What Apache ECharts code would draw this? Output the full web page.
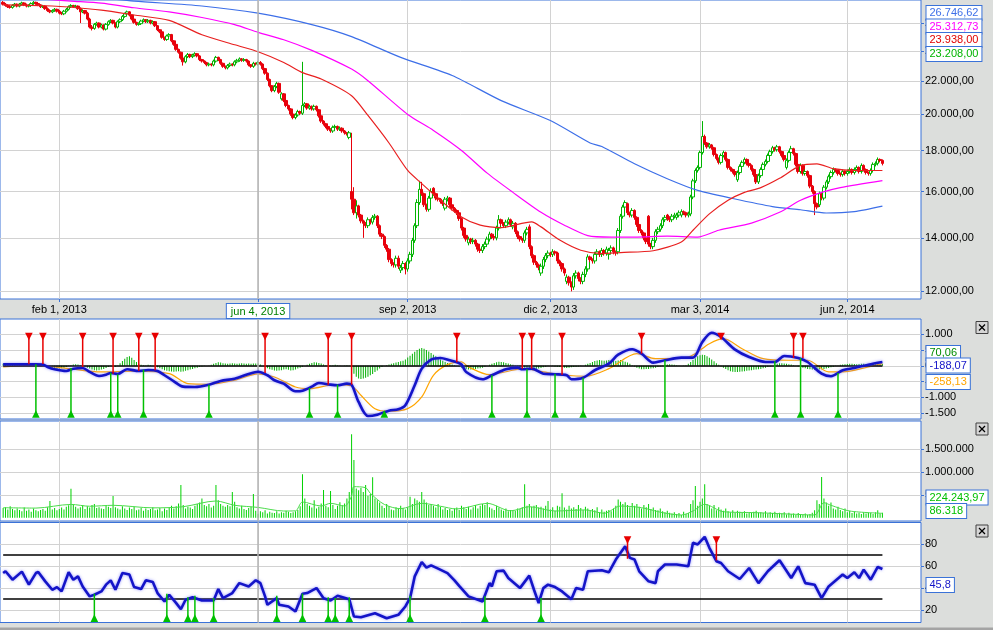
<!DOCTYPE html>
<html><head><meta charset="utf-8">
<script src="https://cdn.jsdelivr.net/npm/echarts@6/dist/echarts.min.js"></script>
<style>html,body{margin:0;padding:0;background:#dcdedc;}#c{width:993px;height:630px;}</style>
</head><body><div id="c"></div>
<script>
// ---------------- data ----------------
const tickIndex = [24, 109, 173, 234, 298, 361];
const tickLabels = ['feb 1, 2013', 'jun 4, 2013', 'sep 2, 2013', 'dic 2, 2013', 'mar 3, 2014', 'jun 2, 2014'];
const crossIndex = 109;
const priceTicks = [12000, 14000, 16000, 18000, 20000, 22000, 24000, 26000];
const macdTicks = [-1500, -1000, -500, 0, 500, 1000];
const volumeTicks = [500000, 1000000, 1500000];
const rsiTicks = [20, 40, 60, 80];
const rsiBands = [30, 70];

const open = [27600,27450,27350,27250,27200,27350,27450,27300,27450,27550,27400,27300,27350,27500,27600,27500,27400,27250,27300,27100,26950,26850,26950,27050,26900,
26750,26700,26900,27050,27250,27350,27250,27300,27100,26850,26950,26750,26300,25700,25600,25900,26000,25700,25850,25550,25900,26100,26200,26000,25700,
26100,26250,26500,26700,26850,26600,26300,26050,25900,25950,26150,26250,26100,26200,26000,26100,25800,25500,25350,24950,24800,25050,25150,24700,24450,
24100,23900,23500,23250,23600,23750,23600,23700,23800,23650,23400,23300,23200,23050,23100,23050,23300,23550,23400,23150,22950,22850,23000,23100,23050,
23250,23350,23450,23350,23400,23300,23050,22950,23150,23100,23208,23100,22800,22500,22100,21700,21400,21650,21850,20900,21200,20800,20500,20300,20000,
19800,19950,20150,20050,20500,20600,20350,20450,20300,20450,20250,19900,19600,19450,19300,19150,19050,19250,19300,19150,19200,19050,18950,18700,16000,
15650,15050,15350,14950,14700,14600,14500,14750,14650,14850,14900,14500,14150,14050,13700,13550,13150,13000,12950,13200,12750,12850,13000,12800,13100,
13350,13900,14500,15500,16100,15900,15400,15200,15700,16150,15900,15700,15650,15550,15250,15650,15700,15400,15250,15150,15050,14800,14400,14100,13800,
13950,13850,13900,13750,13550,13500,13650,13750,13950,14150,14050,14000,14400,14750,14600,14500,14650,14750,14450,14600,14250,14050,13950,13900,14200,
14450,13650,13300,13050,12950,12650,12900,13150,13300,13400,13350,13450,13400,13100,13000,12800,12350,12500,12300,12150,12550,12650,12450,12350,12600,
12800,13250,13150,13100,13350,13450,13350,13500,13400,13350,13500,13600,13450,13450,14300,14900,15300,15450,15050,14950,15150,14850,14550,14300,14200,
14000,14900,13750,13650,13900,14250,14350,14500,14750,14950,14850,14750,14900,14850,14950,14950,15100,15050,14950,15000,15750,16500,17000,17150,17900,
18750,18400,18200,18300,18150,17800,17600,17400,17750,17900,17550,17150,17050,16950,16550,16900,17200,17400,17550,17350,17250,17050,16800,16450,16750,
17050,17300,17450,17750,17950,18150,18050,18200,17950,17750,17150,17500,17900,18100,17850,17300,16950,17250,16850,16950,16750,16250,16000,15450,15400,
15900,15700,16200,16450,16700,16900,17050,17000,16850,16800,16950,16850,16950,17050,16900,17050,17150,16950,17250,17050,16900,16850,17000,17300,17350,17550,17500];

const close = [27450,27350,27250,27200,27350,27450,27300,27450,27550,27400,27300,27350,27500,27600,27500,27400,27250,27300,27100,26950,26850,26950,27050,26900,26750,
26700,26900,27050,27250,27350,27250,27300,27100,26850,26950,26750,26300,25700,25600,25900,26000,25700,25850,25550,25900,26100,26200,26000,25700,26100,
26250,26500,26700,26850,26600,26300,26050,25900,25950,26150,26250,26100,26200,26000,26100,25800,25500,25350,24950,24800,25050,25150,24700,24450,24100,
23900,23500,23250,23600,23750,23600,23700,23800,23650,23400,23300,23200,23050,23100,23050,23300,23550,23400,23150,22950,22850,23000,23100,23050,23250,
23350,23450,23350,23400,23300,23050,22950,23150,23100,23208,23100,22800,22500,22100,21700,21400,21650,21850,21300,21200,20800,20500,20300,20000,19800,
19950,20150,20050,20500,20600,20350,20450,20300,20450,20250,19900,19600,19450,19300,19150,19050,19250,19300,19150,19200,19050,18950,18900,18950,15650,
15050,15350,14950,14700,14600,14500,14750,14650,14850,14900,14500,14150,14050,13700,13550,13150,13000,12950,13200,12900,12850,13000,12800,13100,13350,
13900,14500,15500,16100,15900,15400,15200,15700,16000,15900,15700,15650,15550,15450,15650,15700,15400,15250,15150,15050,14800,14400,14100,13950,13950,
13850,13900,13750,13550,13500,13650,13750,13950,14150,14050,14000,14400,14750,14600,14500,14650,14750,14550,14600,14250,14050,13950,13900,14200,14350,
13650,13300,13050,12950,12850,12900,13150,13300,13400,13350,13450,13400,13100,13000,12800,12650,12500,12300,12150,12550,12650,12450,12350,12600,12800,
13250,13150,13100,13350,13450,13350,13500,13400,13550,13500,13600,13450,13400,14300,14900,15300,15500,15050,14950,15150,14850,14550,14300,14200,14000,
13850,13750,13650,13900,14250,14350,14500,14750,14850,14800,14750,14900,14950,14950,15050,15100,15050,14950,15000,15750,16500,17000,17150,17900,18750,
18400,18200,18300,18150,17800,17600,17400,17750,17900,17550,17150,17050,16950,16800,16900,17200,17400,17550,17350,17250,17050,16800,16450,16750,17050,
17300,17450,17750,17950,18150,18050,18200,17950,17750,17550,17500,17900,18100,17850,17300,16950,17250,16850,16950,16750,16250,16000,15450,15300,15900,
15700,16200,16450,16700,16900,17050,17000,16850,16800,16950,16850,16950,17050,16900,17050,17150,16950,17250,17050,16900,16850,17000,17300,17350,17550,17500,17350];

const high = [27700,27550,27450,27350,27450,27550,27500,27550,27650,27600,27500,27450,27600,27700,27650,27600,27450,27400,27350,27200,27050,27050,27150,27100,27000,
26850,27000,27150,27350,27450,27400,27400,27350,27200,27050,27000,26850,26400,25850,26000,26100,26050,25950,25900,26000,26200,26300,26250,26050,26200,
26350,26600,26800,26950,26900,26650,26350,26100,26050,26250,26350,26300,26300,26250,26200,26150,25850,25550,25400,25000,25150,25250,25200,24750,24500,
24150,23950,23550,23700,23850,23800,23800,23900,23850,23700,23450,23350,23250,23200,23150,23400,23650,23600,23450,23200,23000,23100,23200,23150,23350,
23450,23550,23500,23500,23450,23350,23100,23250,23200,23300,23300,23150,22850,22550,22150,21750,21750,21950,21900,21300,21250,20850,20550,20350,20050,
20050,20250,20200,23250,20700,20650,20550,20500,20550,20500,20300,19950,19650,19500,19350,19200,19350,19400,19350,19300,19250,19100,19000,19050,18950,
16200,15600,15400,15000,14750,14650,14850,14800,14950,15000,14950,14550,14200,14100,13750,13600,13200,13050,13300,13300,12950,13100,13050,13200,13450,
14000,14600,15650,16500,16450,15950,15450,15800,16150,16200,15950,15750,15700,15600,15750,15800,15750,15450,15300,15200,15100,14850,14450,14150,14050,
14000,14000,13950,13800,13600,13750,13850,14050,14250,14200,14100,14500,14950,14800,14650,14750,14850,14800,14700,14650,14300,14100,14000,14300,14450,
14550,13700,13350,13100,13000,13000,13250,13400,13500,13450,13550,13500,13450,13150,13050,12850,12600,12550,12350,12650,12750,12700,12500,12700,12900,
13350,13300,13200,13450,13550,13500,13600,13550,13650,13600,13700,13650,13500,14400,15000,15400,15600,15500,15100,15250,15200,14900,14600,14350,14250,
14050,14950,13800,14000,14350,14450,14600,14850,14950,15000,14900,15000,15050,15050,15150,15200,15150,15100,15100,15850,16600,17100,17250,18000,19600,
18850,18450,18400,18350,18200,17850,17650,17850,18000,17950,17600,17200,17100,17000,17000,17300,17500,17650,17600,17400,17300,17100,16850,16850,17150,
17400,17550,17850,18050,18250,18200,18300,18250,18000,17800,17600,18000,18250,18150,17900,17350,17350,17300,17050,17000,16800,16300,16050,15500,16000,
15950,16300,16550,16800,17000,17150,17100,17050,16900,17050,17000,17050,17150,17100,17150,17250,17200,17350,17300,17100,16950,17100,17400,17450,17650,17600,17550];

const low = [27350,27250,27150,27100,27100,27250,27200,27200,27350,27300,27200,27200,27250,27400,27400,27300,27150,27150,27000,26850,26750,26750,26850,26800,26650,
26600,26600,26800,26950,27150,27150,27150,27000,26000,26750,26650,26200,25600,25450,25500,25800,25600,25600,25450,25450,25800,26000,25900,25600,25600,
26000,26150,26400,26600,26500,26200,25950,25800,25800,25850,26050,26000,26000,25900,25900,25700,25400,25250,24850,24700,24700,24950,24600,24350,24000,
23800,23400,23000,23150,23500,23500,23500,23600,23550,23300,23200,23100,22950,22950,22950,22950,23200,23300,23050,22850,22750,22750,22900,22950,22950,
23150,23250,23250,23250,23200,22950,22850,22850,23000,23000,23000,22700,22400,22000,21600,21300,21300,21550,21200,20800,20700,20400,20200,19900,19700,
19700,19850,19950,19950,20400,20250,20250,20200,20200,20150,19800,19500,19350,19200,19050,18950,18950,19150,19050,19050,18950,18850,18800,18600,15200,
14950,14800,14850,14600,14000,14400,14400,14550,14550,14750,14400,14050,13950,13600,13450,13050,12900,12850,12850,12800,12650,12750,12600,12700,13000,
13250,13800,14400,15400,15800,15300,15100,15100,15600,15800,15600,15550,15450,15350,15150,15550,15300,15150,15050,14950,14700,14300,14000,13850,13700,
13750,13750,13650,13450,13400,13400,13550,13650,13850,13950,13900,13900,14300,14500,14400,14400,14550,14450,14350,14150,13950,13850,13800,13800,14100,
13550,13200,12950,12850,12750,12550,12800,13050,13200,13250,13250,13300,13000,12900,12700,12550,12250,12200,12000,12050,12450,12350,12250,12250,12500,
12700,13050,13000,13000,13250,13250,13250,13300,13300,13150,13400,13350,13300,13350,14200,14800,15200,14950,14850,14850,14750,14450,14200,14100,13900,
13750,13650,13550,13550,13800,14150,14250,14400,14650,14700,14650,14650,14800,14750,14850,14850,14950,14850,14850,14900,15650,16400,16900,17050,17800,
18300,18100,18100,18050,17700,17500,17300,17300,17650,17450,17050,16950,16850,16700,16450,16800,17100,17300,17250,17150,16950,16700,16350,16350,16650,
16950,17200,17350,17650,17850,17950,17950,17850,17650,17450,17050,17400,17800,17750,17200,16850,16850,16750,16750,16650,16150,15900,14950,15200,15300,
15600,15600,16100,16350,16600,16800,16900,16750,16700,16700,16750,16750,16850,16800,16800,16950,16850,16850,16950,16800,16750,16750,16900,17200,17250,17400,17250];

// moving averages of price: [day index, value]
const maShort = [[0,27400],[21,27310],[28,27230],[42,26980],[56,26610],[71,26200],[85,25140],[99,24420],[109,23938],[120,23210],[128,22540],[136,22130],[149,21090],[156,19920],[165,18400],[173,17000],[179,16370],[187,15600],[196,14870],[204,14520],[213,14420],[226,14660],[230,14450],[238,13910],[247,13510],[256,13380],[264,13420],[278,13490],[290,13830],[295,14310],[302,15000],[310,15600],[317,15960],[324,16180],[332,16620],[341,17250],[348,17330],[355,17090],[364,17000],[376,17000]];
const maMid = [[10,27950],[29,27700],[42,27540],[56,27170],[71,26850],[85,26420],[99,25880],[109,25313],[120,24780],[132,24030],[149,22770],[156,22020],[173,19980],[184,19080],[196,18010],[207,16870],[218,15960],[230,15070],[240,14520],[250,14090],[260,14030],[270,14030],[284,14070],[297,14030],[306,14310],[320,14610],[332,15070],[341,15600],[350,15960],[358,16180],[376,16510]];
const maLong = [[40,28000],[56,27700],[85,27310],[109,26747],[132,25880],[149,25000],[170,23550],[192,22350],[213,20790],[234,19630],[251,18400],[256,18220],[270,17330],[284,16600],[297,16050],[312,15680],[329,15320],[341,15180],[352,15040],[364,15100],[376,15340]];

// MACD panel
const macd = [[0,47],[8,47],[14,47],[17,40],[19,-38],[22,-111],[27,-165],[30,-92],[34,-70],[37,-196],[41,-323],[44,-282],[46,-228],[49,-259],[53,-111],[58,-165],[62,-133],[66,-165],[69,-301],[73,-491],[77,-661],[82,-671],[88,-598],[93,-481],[99,-408],[105,-259],[109,-188],[113,-301],[116,-459],[120,-566],[125,-807],[128,-788],[132,-661],[135,-544],[140,-598],[143,-617],[147,-566],[149,-598],[152,-1146],[156,-1589],[160,-1547],[165,-1421],[169,-1377],[172,-1250],[176,-617],[179,-92],[183,193],[187,247],[191,174],[194,110],[196,40],[198,-196],[205,-427],[209,-301],[215,-111],[220,-60],[222,-111],[226,-92],[231,-250],[236,-269],[241,-301],[243,-427],[248,-377],[253,-142],[259,66],[263,351],[269,522],[273,383],[278,98],[283,174],[290,256],[295,256],[299,753],[303,1047],[307,911],[313,509],[319,278],[326,120],[330,120],[334,310],[340,247],[344,120],[350,-250],[354,-332],[359,-142],[364,-70],[370,35],[376,120]];
const signal = [[0,-38],[14,16],[28,-92],[42,-196],[56,-174],[71,-250],[79,-566],[88,-585],[99,-459],[109,-258],[116,-354],[125,-671],[131,-725],[142,-598],[149,-639],[153,-934],[159,-1358],[165,-1440],[173,-1358],[179,-987],[184,-301],[190,35],[196,120],[199,-38],[208,-282],[216,-174],[222,-92],[231,-196],[241,-301],[249,-332],[259,-92],[271,383],[279,225],[293,278],[302,699],[308,858],[316,541],[325,225],[336,174],[344,174],[353,-196],[359,-196],[370,-38],[376,66]];
const hist = [60,55,50,40,30,25,20,15,10,10,5,0,5,10,5,0,-5,-10,-20,-40,-60,-80,-90,-100,-90,
-80,-60,-40,-10,20,40,50,40,20,0,-30,-60,-90,-120,-140,-150,-140,-120,-100,-70,-40,-10,-20,-30,10,
80,150,220,280,300,250,180,120,60,30,20,10,30,20,0,-20,-50,-80,-110,-140,-160,-170,-180,-190,-180,
-170,-190,-180,-160,-140,-120,-100,-80,-60,-40,-20,-10,0,10,30,60,90,110,100,80,70,60,70,80,70,
60,70,80,70,60,70,60,70,75,70,40,0,-40,-80,-110,-130,-150,-160,-150,-140,-120,-110,-130,-150,-140,
-120,-90,-60,-30,0,30,60,90,110,100,90,70,40,20,0,10,20,30,20,10,0,10,20,10,-100,
-250,-350,-400,-420,-400,-380,-350,-300,-260,-200,-150,-90,-40,0,20,40,60,80,100,120,140,160,200,260,320,
380,440,500,540,560,540,500,450,400,350,300,250,200,160,120,90,60,40,20,0,-30,-60,-90,-110,-120,
-115,-110,-100,-90,-80,-60,-30,0,30,60,90,110,125,120,110,90,70,50,30,10,-10,-30,-50,-60,-70,
-90,-100,-110,-100,-90,-70,-50,-30,-10,0,-10,-20,-30,-40,-50,-60,-70,-60,-50,-40,-30,-20,-10,0,30,
60,90,120,150,170,180,170,160,170,180,170,160,150,170,180,160,130,100,60,20,-20,-60,-90,-110,-110,
-100,-100,-90,-80,-60,-40,-20,10,30,40,50,40,30,20,10,0,10,20,60,120,180,240,300,330,350,
340,300,250,200,140,80,30,-20,-60,-100,-140,-170,-190,-200,-200,-190,-180,-170,-160,-150,-140,-130,-120,-110,-100,
-80,-60,-40,-20,0,30,60,80,80,70,60,50,40,20,0,-20,-40,-60,-80,-100,-110,-120,-130,-130,-120,
-110,-100,-90,-70,-50,-30,-10,10,30,40,50,55,60,60,55,50,55,60,60,55,50,50,45,50,55,55,55];
const macdSell = [[11,47],[17,57],[34,-38],[47,-250],[58,-165],[65,-142],[112,-228],[139,-598],[149,-598],[194,110],[222,-92],[226,-92],[239,-282],[273,383],[307,858],[338,247],[342,247]];
const macdBuy = [[14,47],[29,-70],[46,-218],[49,-269],[60,-123],[88,-598],[131,-703],[143,-598],[163,-1440],[209,-301],[224,-111],[236,-250],[248,-377],[283,174],[330,142],[341,247],[357,-228]];

// volume panel
const volume = [210000,230000,180000,250000,190000,160000,200000,170000,140000,220000,150000,180000,130000,200000,160000,140000,170000,190000,150000,230000,365000,180000,210000,160000,190000,
220000,180000,240000,270000,633000,300000,240000,200000,230000,280000,190000,250000,220000,280000,300000,210000,230000,200000,190000,260000,240000,210000,474000,230000,200000,
180000,250000,200000,170000,220000,190000,240000,160000,180000,210000,150000,200000,170000,190000,230000,160000,180000,210000,140000,200000,170000,230000,260000,200000,250000,
310000,714000,280000,200000,240000,220000,190000,260000,300000,330000,420000,280000,250000,300000,220000,260000,714000,380000,300000,260000,240000,280000,250000,561000,350000,
230000,200000,260000,190000,170000,210000,240000,517000,150000,86318,140000,120000,160000,90000,130000,110000,100000,140000,90000,120000,110000,150000,130000,100000,120000,
140000,170000,250000,948000,420000,300000,260000,220000,380000,200000,240000,310000,605000,260000,230000,583000,280000,190000,260000,340000,280000,310000,420000,560000,1821000,
1260000,640000,600000,650000,560000,714000,480000,520000,882000,420000,380000,330000,260000,210000,300000,250000,180000,160000,230000,190000,260000,210000,180000,230000,459000,
300000,420000,380000,350000,561000,400000,330000,280000,300000,260000,220000,300000,240000,180000,210000,170000,190000,150000,200000,220000,170000,260000,230000,190000,240000,
180000,230000,280000,200000,260000,300000,280000,340000,230000,200000,170000,260000,220000,180000,150000,200000,140000,170000,160000,150000,200000,190000,230000,729000,260000,
300000,240000,260000,280000,220000,240000,200000,260000,365000,180000,230000,150000,260000,240000,533000,220000,180000,260000,200000,230000,190000,280000,210000,170000,240000,
200000,150000,190000,160000,230000,120000,180000,130000,150000,170000,140000,200000,260000,400000,350000,300000,340000,280000,230000,320000,260000,300000,240000,200000,280000,
230000,300000,190000,220000,170000,160000,200000,140000,120000,150000,110000,90000,120000,80000,100000,60000,130000,80000,100000,300000,380000,692000,260000,350000,420000,
729000,300000,260000,200000,280000,160000,230000,180000,150000,200000,140000,120000,160000,110000,150000,130000,110000,140000,90000,120000,100000,130000,150000,110000,120000,
100000,140000,90000,120000,100000,130000,80000,110000,90000,120000,70000,110000,80000,90000,60000,100000,80000,70000,90000,60000,80000,110000,160000,380000,300000,
889000,420000,330000,260000,330000,200000,180000,240000,170000,140000,200000,120000,150000,100000,130000,90000,110000,80000,120000,90000,110000,100000,80000,120000,160000,90000,110000];
const volumeMA = [[0,218000],[14,210000],[29,290000],[37,250000],[47,271000],[64,215000],[77,240000],[91,365000],[99,271000],[109,224244],[120,146000],[125,150000],[128,343000],[136,255000],[140,314000],[146,255000],[149,474000],[150,677000],[155,655000],[157,533000],[163,290000],[170,197000],[179,314000],[187,250000],[194,190000],[207,314000],[217,150000],[225,240000],[236,146000],[249,170000],[257,96000],[264,255000],[273,218000],[282,110000],[290,59000],[295,146000],[300,292000],[308,130000],[322,110000],[336,80000],[347,59000],[351,328000],[354,271000],[362,146000],[376,96000]];

// RSI panel
const rsi = [[0,53.6],[1,55.2],[4,47.6],[8,54.9],[11,43.1],[14,53.6],[15,54.5],[18,46.1],[21,38.5],[23,40.9],[25,37],[28,54.3],[30,47.6],[32,50.6],[34,41.5],[37,32.5],[39,34],[42,37],[44,43.1],[46,47],[48,38.5],[51,53.6],[54,52.2],[56,40.9],[59,39.1],[61,47],[64,45.5],[66,35.5],[69,27.9],[71,34],[74,26.4],[76,20.9],[78,29.5],[81,31.8],[85,28.8],[90,28.8],[92,39.1],[94,30.9],[98,35.5],[101,44.5],[105,41.5],[108,47],[109,45.8],[110,44.5],[112,32.5],[113,24.9],[117,30.9],[118,24.9],[122,23.4],[125,18.8],[128,34.9],[130,35.5],[134,40],[137,30.9],[140,28.8],[143,33.1],[148,30],[150,14.3],[153,13.6],[159,17.3],[164,12.7],[169,15.8],[172,23.4],[174,30.9],[176,50.6],[179,63.6],[181,58.5],[183,60.6],[186,57.6],[190,53.6],[193,47],[195,42],[199,32.5],[205,27.9],[208,44.5],[209,41.5],[211,55.2],[214,55.8],[216,49.1],[221,40],[225,51.3],[227,38.5],[229,26.4],[231,40],[233,43.1],[236,40.9],[239,37],[243,30],[245,40],[248,38.5],[250,55.2],[256,56.1],[259,54.3],[262,65.8],[266,77.9],[268,67.3],[270,65.8],[272,55.2],[276,46.1],[279,44.5],[280,55.2],[283,61.3],[288,61.3],[293,59.7],[295,80.9],[297,79.5],[300,86.4],[302,76.4],[305,64.3],[307,62.7],[310,55.2],[315,48.2],[319,58.2],[323,44.5],[327,55.2],[332,65.2],[337,49.1],[340,59.7],[343,44.5],[347,43.1],[350,30.9],[353,41.5],[359,52.2],[361,49.1],[364,54.3],[366,49.1],[368,56.7],[371,47.6],[374,59.1],[376,57.3]];
const rsiBuy = [[39,34.9],[70,34.9],[79,31.7],[82,33],[90,31],[117,33],[128,35],[139,31.7],[142,31],[148,31.7],[174,33],[206,32.6],[230,31]];
const rsiSell = [[267,66.5],[305,65]];

// values shown in the boxes at the cursor day
const crossPrice = [26746.62, 25312.73, 23938.00, 23208.00];
const crossMacd = [70.06, -188.07, -258.13];
const crossVolume = [224243.97, 86318];
const crossRsi = [45.8];

// ---------------- chart ----------------
const lg = v => Math.log10(v);
const last = close.length - 1;
const X_MIN = -1.35, X_MAX = 392.5;
const BLUE = '#3a72d8', GRIDC = '#d2d2d2', FONT = 'Liberation Sans';
const C_UP = '#00b400', C_DN = '#e8000b', C_LINE = '#1414c8';

function fmt(v, dec) {
  const neg = v < 0;
  const s = Math.abs(v).toFixed(dec).split('.');
  const int = s[0].replace(/\B(?=(\d{3})+(?!\d))/g, '.');
  return (neg ? '-' : '') + int + (dec ? ',' + s[1] : '');
}

function xAxisFor(gi, withLabels) {
  return {
    type: 'value', gridIndex: gi, min: X_MIN, max: X_MAX, position: 'bottom',
    axisLine: { show: false, onZero: false },
    axisTick: { show: withLabels, length: 3, customValues: tickIndex, lineStyle: { color: BLUE } },
    axisLabel: withLabels ? {
      show: true, customValues: tickIndex, fontSize: 11, color: '#000', margin: 5, fontFamily: FONT,
      formatter: v => {
        const k = tickIndex.indexOf(Math.round(v));
        const t = k >= 0 ? tickLabels[k] : '';
        return Math.round(v) === crossIndex ? '{hl|' + t + '}' : t;
      },
      rich: { hl: { color: '#008000', backgroundColor: '#fff', borderColor: BLUE, borderWidth: 1, padding: [2, 4, 1, 4], fontSize: 11, fontFamily: FONT } }
    } : { show: false },
    splitLine: { show: true, lineStyle: { color: GRIDC, width: 1 } }
  };
}
function yAxisFor(gi, min, max, ticks, formatter) {
  return {
    type: 'value', gridIndex: gi, position: 'right', min, max,
    axisLine: { show: false, onZero: false },
    axisTick: { show: true, inside: false, length: 3, customValues: ticks, lineStyle: { color: BLUE } },
    axisLabel: { show: true, customValues: ticks, formatter, fontSize: 11, color: '#000', margin: 4, fontFamily: FONT },
    splitLine: { show: true, lineStyle: { color: GRIDC, width: 1 } }
  };
}
const crossLine = { xAxis: crossIndex, lineStyle: { color: '#b4b4b4', width: 1.5, type: 'solid' } };
function signalSeries(data, gi, level, dir, color) {
  return {
    type: 'custom', xAxisIndex: gi, yAxisIndex: gi, data, encode: { x: 0, y: 1 }, silent: true, z: 6,
    renderItem: (params, api) => {
      const x = api.value(0), v = api.value(1);
      const p = api.coord([x, v]), m = api.coord([x, level]);
      const s = 3.8;
      const pts = dir < 0
        ? [[m[0] - s, m[1] - s], [m[0] + s, m[1] - s], [m[0], m[1] + s]]
        : [[m[0] - s, m[1] + s], [m[0] + s, m[1] + s], [m[0], m[1] - s]];
      return { type: 'group', children: [
        { type: 'line', shape: { x1: m[0], y1: m[1], x2: p[0], y2: p[1] }, style: { stroke: color, lineWidth: 1.5 } },
        { type: 'polygon', shape: { points: pts }, style: { fill: color } }
      ] };
    }
  };
}
function lineSeries(data, gi, color, width, smooth, extra) {
  return Object.assign({
    type: 'line', xAxisIndex: gi, yAxisIndex: gi, data, showSymbol: false, smooth,
    lineStyle: { color, width }, itemStyle: { color }, z: 4, silent: true
  }, extra || {});
}
function box(x, y, text, color) {
  return { type: 'text', x, y, z: 100, style: {
    text, fill: color, font: '11px "' + FONT + '"', backgroundColor: '#fff', borderColor: BLUE, borderWidth: 1,
    padding: [1, 3, 1, 3], lineHeight: 12, verticalAlign: 'top', align: 'left' } };
}
function closeBtn(x, y) {
  return { type: 'group', x, y, z: 100, children: [
    { type: 'rect', shape: { x: 0, y: 0, width: 12, height: 12 }, style: { fill: '#d6d6d6', stroke: '#404040', lineWidth: 1 } },
    { type: 'line', shape: { x1: 3, y1: 3, x2: 9, y2: 9 }, style: { stroke: '#000', lineWidth: 1.3 } },
    { type: 'line', shape: { x1: 9, y1: 3, x2: 3, y2: 9 }, style: { stroke: '#000', lineWidth: 1.3 } }
  ] };
}

const gridBase = { left: -3, width: 924, show: true, backgroundColor: '#fff', borderColor: BLUE, borderWidth: 1 };
const shadowLine = { shadowColor: 'rgba(100,100,255,0.7)', shadowBlur: 3 };

const option = {
  animation: false,
  backgroundColor: '#dcdedc',
  textStyle: { fontFamily: FONT },
  grid: [
    Object.assign({ top: -1, height: 300 }, gridBase),
    Object.assign({ top: 319, height: 100 }, gridBase),
    Object.assign({ top: 421, height: 100 }, gridBase),
    Object.assign({ top: 522.5, height: 100 }, gridBase)
  ],
  xAxis: [xAxisFor(0, true), xAxisFor(1, false), xAxisFor(2, false), xAxisFor(3, false)],
  yAxis: [
    yAxisFor(0, 4.0696, 4.4438, priceTicks.map(lg), v => fmt(Math.round(Math.pow(10, v)), 2)),
    yAxisFor(1, -1685, 1480, macdTicks, v => fmt(v, 0)),
    yAxisFor(2, -72000, 2111000, volumeTicks, v => fmt(v, 0)),
    yAxisFor(3, 8.9, 99.3, rsiTicks, v => fmt(v, 0))
  ],
  series: [
    {
      type: 'candlestick', xAxisIndex: 0, yAxisIndex: 0, silent: true,
      data: close.map((c, i) => [i, lg(open[i]), lg(c), lg(low[i]), lg(high[i])]),
      encode: { x: 0, y: [1, 2, 3, 4] },
      barWidth: 3,
      itemStyle: { color: '#ffffff', color0: C_DN, borderColor: C_UP, borderColor0: C_DN, borderWidth: 1 },
      markLine: { symbol: 'none', silent: true, label: { show: false }, data: [crossLine] }
    },
    lineSeries(maLong.map(d => [d[0], lg(d[1])]), 0, '#3d6fe8', 1.2, 0.25),
    lineSeries(maMid.map(d => [d[0], lg(d[1])]), 0, '#ff00ff', 1.2, 0.25),
    lineSeries(maShort.map(d => [d[0], lg(d[1])]), 0, '#e82020', 1.2, 0.25),

    {
      type: 'bar', xAxisIndex: 1, yAxisIndex: 1, silent: true, barWidth: 1,
      data: hist.map((v, i) => [i, v]), itemStyle: { color: '#00b000' },
      markLine: { symbol: 'none', silent: true, label: { show: false }, lineStyle: { color: '#000', width: 1.5, type: 'solid' },
        data: [[{ coord: [0, 0] }, { coord: [last, 0] }], crossLine] }
    },
    lineSeries(signal, 1, '#ffa500', 1.2, 0.3),
    lineSeries(macd, 1, C_LINE, 2.6, 0.3, { lineStyle: Object.assign({ color: C_LINE, width: 2.6 }, shadowLine), z: 5 }),
    signalSeries(macdSell, 1, 927, -1, '#e80000'),
    signalSeries(macdBuy, 1, -1525, 1, '#00c000'),

    {
      type: 'bar', xAxisIndex: 2, yAxisIndex: 2, silent: true, barWidth: 1,
      data: volume.map((v, i) => [i, v]), itemStyle: { color: '#00d200' },
      markLine: { symbol: 'none', silent: true, label: { show: false }, data: [crossLine] }
    },
    lineSeries(volumeMA, 2, '#4cdc4c', 1, 0.3),

    lineSeries(rsi, 3, C_LINE, 2.6, false, {
      lineStyle: Object.assign({ color: C_LINE, width: 2.6 }, shadowLine), z: 5,
      markLine: { symbol: 'none', silent: true, label: { show: false }, lineStyle: { color: '#000', width: 1.5, type: 'solid' },
        data: rsiBands.map(b => [{ coord: [0, b] }, { coord: [last, b] }]).concat([crossLine]) }
    }),
    signalSeries(rsiSell, 3, 83.4, -1, '#e80000'),
    signalSeries(rsiBuy, 3, 12.9, 1, '#00c000')
  ],
  graphic: { elements: [
    box(926.5, 6, fmt(crossPrice[0], 2), '#3d6fe8'),
    box(926.5, 19.5, fmt(crossPrice[1], 2), '#ff00ff'),
    box(926.5, 33, fmt(crossPrice[2], 2), '#e00000'),
    box(926.5, 47, fmt(crossPrice[3], 2), '#00b400'),
    box(926.5, 346, fmt(crossMacd[0], 2), '#008c00'),
    box(926.5, 358.5, fmt(crossMacd[1], 2), C_LINE),
    box(926.5, 375, fmt(crossMacd[2], 2), '#ffa500'),
    box(926.5, 490.5, fmt(crossVolume[0], 2), '#00c000'),
    box(926.5, 504, fmt(crossVolume[1], 0), '#00c000'),
    box(926.5, 578, fmt(crossRsi[0], 1), C_LINE),
    closeBtn(976, 321.5), closeBtn(976, 423), closeBtn(976, 525),
    { type: 'rect', z: 100, shape: { x: 0, y: 627.5, width: 993, height: 2.5 }, style: { fill: '#a4a4a4' } }
  ] }
};

const chart = echarts.init(document.getElementById('c'), null, { renderer: 'canvas', width: 993, height: 630 });
chart.setOption(option);
</script>
</body></html>
